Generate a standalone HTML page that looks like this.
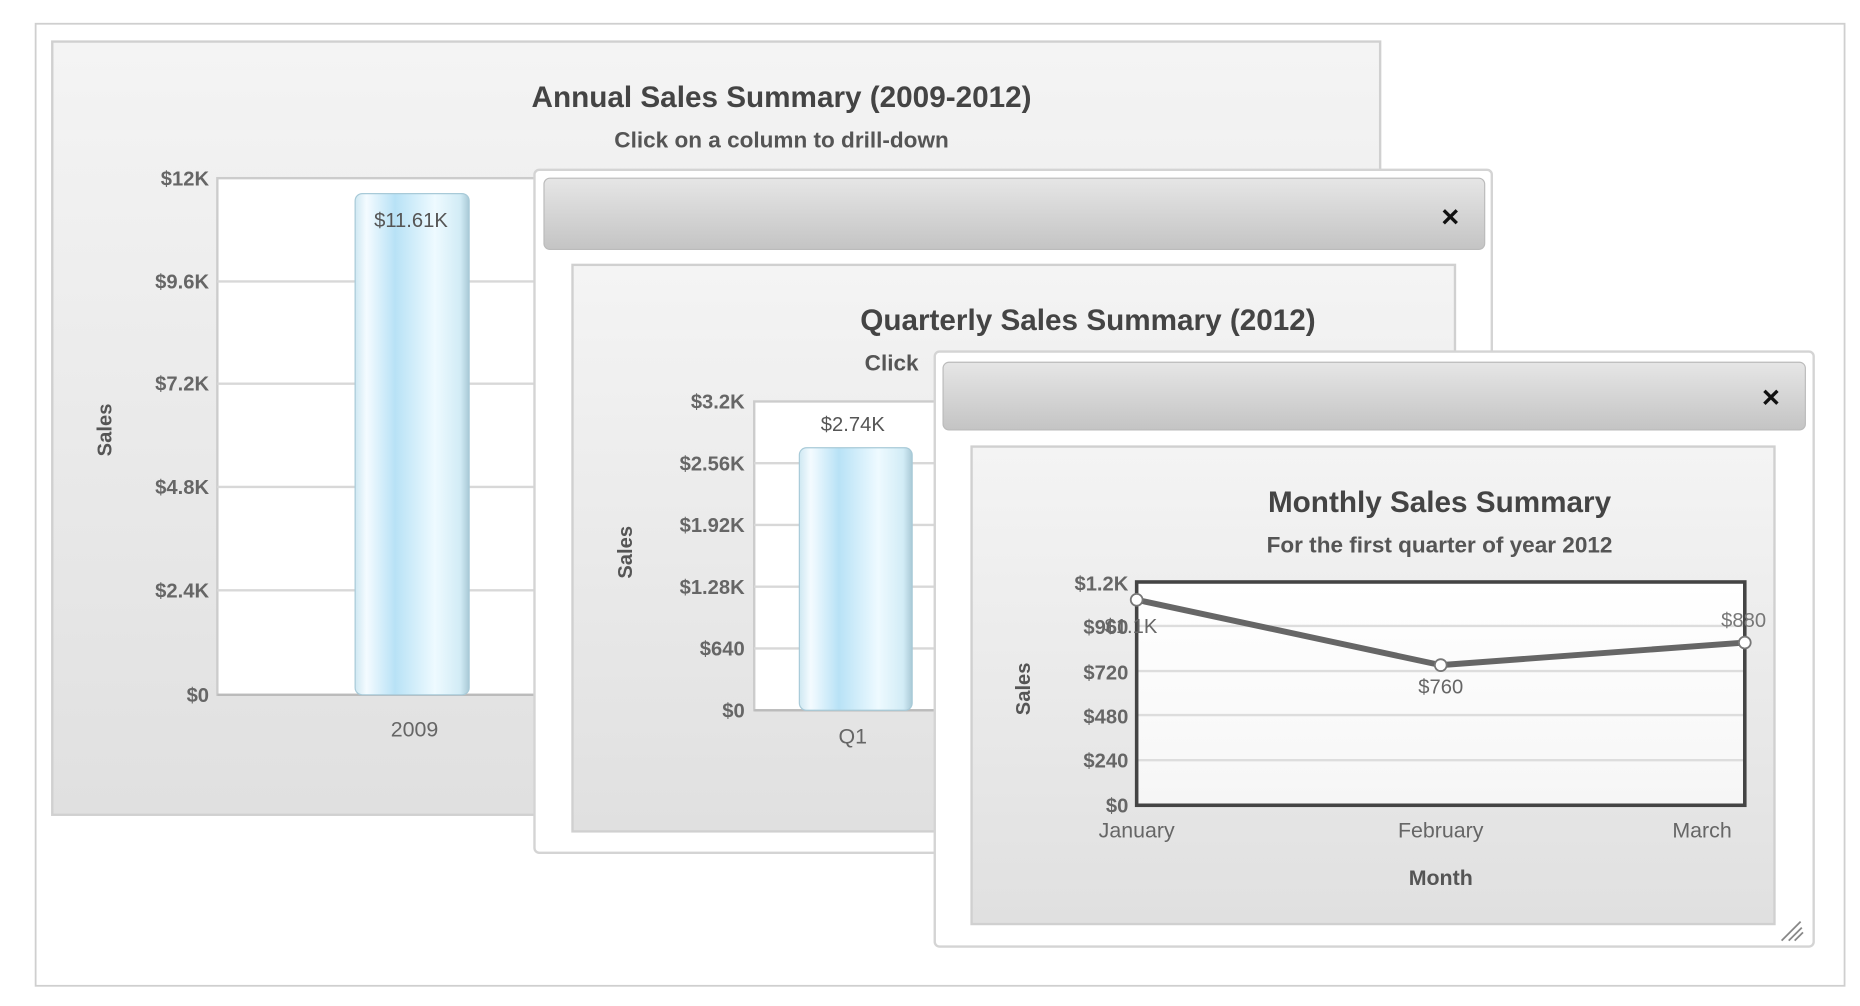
<!DOCTYPE html>
<html><head><meta charset="utf-8"><style>
html,body{margin:0;padding:0;background:#fff;}
svg{display:block;}
text{font-family:"Liberation Sans",sans-serif;}
</style></head><body>
<svg width="1860" height="1006" viewBox="0 0 1566 847" preserveAspectRatio="none" xmlns="http://www.w3.org/2000/svg">
<defs>
<linearGradient id="pg" x1="0" y1="0" x2="0" y2="1"><stop offset="0" stop-color="#f4f4f4"/><stop offset="1" stop-color="#e0e0e0"/></linearGradient>
<linearGradient id="hd" x1="0" y1="0" x2="0" y2="1"><stop offset="0" stop-color="#e6e6e6"/><stop offset="1" stop-color="#c4c4c4"/></linearGradient>
<linearGradient id="bar" x1="0" y1="0" x2="1" y2="0"><stop offset="0" stop-color="#cfe8f2"/><stop offset="0.1" stop-color="#f4fbff"/><stop offset="0.35" stop-color="#b8e2f6"/><stop offset="0.7" stop-color="#eefaff"/><stop offset="0.92" stop-color="#d2ecf6"/><stop offset="1" stop-color="#a9c9d6"/></linearGradient>
<linearGradient id="pl" x1="0" y1="0" x2="0" y2="1"><stop offset="0" stop-color="#fff"/><stop offset="1" stop-color="#f6f6f6"/></linearGradient>
</defs>
<rect x="30" y="20" width="1523" height="810" fill="#fff" stroke="#cfcfcf" stroke-width="1.5"/>
<!-- Panel 1 -->
<rect x="44" y="35" width="1118" height="651" fill="url(#pg)" stroke="#d0d0d0" stroke-width="2"/>
<text x="658" y="90" text-anchor="middle" font-size="25" font-weight="bold" fill="#444">Annual Sales Summary (2009-2012)</text>
<text x="658" y="124" text-anchor="middle" font-size="19" font-weight="bold" fill="#555">Click on a column to drill-down</text>
<rect x="183" y="150" width="280" height="435" fill="#fff" stroke="#ccc" stroke-width="2"/>
<g stroke="#d8d8d8" stroke-width="2"><line x1="183" y1="237" x2="460" y2="237"/><line x1="183" y1="323" x2="460" y2="323"/><line x1="183" y1="410" x2="460" y2="410"/><line x1="183" y1="497" x2="460" y2="497"/></g>
<line x1="183" y1="585" x2="460" y2="585" stroke="#bbb" stroke-width="2"/>
<g font-size="17" font-weight="bold" fill="#666" text-anchor="end"><text x="176" y="156">$12K</text><text x="176" y="243">$9.6K</text><text x="176" y="329">$7.2K</text><text x="176" y="416">$4.8K</text><text x="176" y="503">$2.4K</text><text x="176" y="591">$0</text></g>
<text transform="translate(94,362) rotate(-90)" text-anchor="middle" font-size="17" font-weight="bold" fill="#555">Sales</text>
<rect x="299" y="163" width="96" height="422" rx="6" fill="url(#bar)" stroke="#a8cad8"/>
<text x="346" y="191" text-anchor="middle" font-size="17" fill="#555">$11.61K</text>
<text x="349" y="620" text-anchor="middle" font-size="18" fill="#666">2009</text>
<!-- Panel 2 -->
<rect x="450" y="143" width="806" height="575" rx="4" fill="#fff" stroke="#d4d4d4" stroke-width="2"/>
<rect x="458" y="150" width="792" height="60" rx="5" fill="url(#hd)" stroke="#bbb"/>
<text x="1221" y="191" text-anchor="middle" font-size="26" font-weight="bold" fill="#111">×</text>
<rect x="482" y="223" width="743" height="477" fill="url(#pg)" stroke="#d0d0d0" stroke-width="2"/>
<text x="916" y="278" text-anchor="middle" font-size="25" font-weight="bold" fill="#444">Quarterly Sales Summary (2012)</text>
<text x="728" y="312" font-size="19" font-weight="bold" fill="#555">Click</text>
<rect x="635" y="338" width="160" height="260" fill="#fff" stroke="#ccc" stroke-width="2"/>
<g stroke="#d8d8d8" stroke-width="2"><line x1="635" y1="390" x2="795" y2="390"/><line x1="635" y1="442" x2="795" y2="442"/><line x1="635" y1="494" x2="795" y2="494"/><line x1="635" y1="546" x2="795" y2="546"/></g>
<line x1="635" y1="598" x2="795" y2="598" stroke="#bbb" stroke-width="2"/>
<g font-size="17" font-weight="bold" fill="#666" text-anchor="end"><text x="627" y="344">$3.2K</text><text x="627" y="396">$2.56K</text><text x="627" y="448">$1.92K</text><text x="627" y="500">$1.28K</text><text x="627" y="552">$640</text><text x="627" y="604">$0</text></g>
<text transform="translate(532,465) rotate(-90)" text-anchor="middle" font-size="17" font-weight="bold" fill="#555">Sales</text>
<rect x="673" y="377" width="95" height="221" rx="6" fill="url(#bar)" stroke="#a8cad8"/>
<text x="718" y="363" text-anchor="middle" font-size="17" fill="#555">$2.74K</text>
<text x="718" y="626" text-anchor="middle" font-size="18" fill="#666">Q1</text>
<!-- Panel 3 -->
<rect x="787" y="296" width="740" height="501" rx="4" fill="#fff" stroke="#d4d4d4" stroke-width="2"/>
<rect x="794" y="305" width="726" height="57" rx="5" fill="url(#hd)" stroke="#bbb"/>
<text x="1491" y="343" text-anchor="middle" font-size="26" font-weight="bold" fill="#111">×</text>
<rect x="818" y="376" width="676" height="402" fill="url(#pg)" stroke="#d0d0d0" stroke-width="2"/>
<text x="1212" y="431" text-anchor="middle" font-size="25" font-weight="bold" fill="#444">Monthly Sales Summary</text>
<text x="1212" y="465" text-anchor="middle" font-size="19" font-weight="bold" fill="#555">For the first quarter of year 2012</text>
<rect x="957" y="490" width="512" height="188" fill="url(#pl)"/>
<g stroke="#ddd" stroke-width="2"><line x1="957" y1="527" x2="1469" y2="527"/><line x1="957" y1="565" x2="1469" y2="565"/><line x1="957" y1="602" x2="1469" y2="602"/><line x1="957" y1="640" x2="1469" y2="640"/></g>
<rect x="957" y="490" width="512" height="188" fill="none" stroke="#444" stroke-width="3"/>
<g font-size="17" font-weight="bold" fill="#666" text-anchor="end"><text x="950" y="497">$1.2K</text><text x="950" y="534">$960</text><text x="950" y="572">$720</text><text x="950" y="609">$480</text><text x="950" y="646">$240</text><text x="950" y="684">$0</text></g>
<text transform="translate(867,580) rotate(-90)" text-anchor="middle" font-size="17" font-weight="bold" fill="#555">Sales</text>
<polyline points="957,505 1213,560 1469,541" fill="none" stroke="#666" stroke-width="5" stroke-linejoin="round"/>
<g fill="#fff" stroke="#777" stroke-width="1.5"><circle cx="957" cy="505" r="5"/><circle cx="1213" cy="560" r="5"/><circle cx="1469" cy="541" r="5"/></g>
<text x="930" y="533" font-size="17" fill="#666">$1.1K</text>
<text x="1213" y="584" text-anchor="middle" font-size="17" fill="#666">$760</text>
<text x="1468" y="528" text-anchor="middle" font-size="17" fill="#777">$880</text>
<g font-size="18" fill="#666" text-anchor="middle"><text x="957" y="705">January</text><text x="1213" y="705">February</text><text x="1433" y="705">March</text></g>
<text x="1213" y="745" text-anchor="middle" font-size="18" font-weight="bold" fill="#555">Month</text>
<g stroke="#888" stroke-width="1.5"><line x1="1500" y1="792" x2="1516" y2="776"/><line x1="1506" y1="792" x2="1517" y2="781"/><line x1="1511" y1="792" x2="1518" y2="785"/></g>
</svg>
</body></html>
